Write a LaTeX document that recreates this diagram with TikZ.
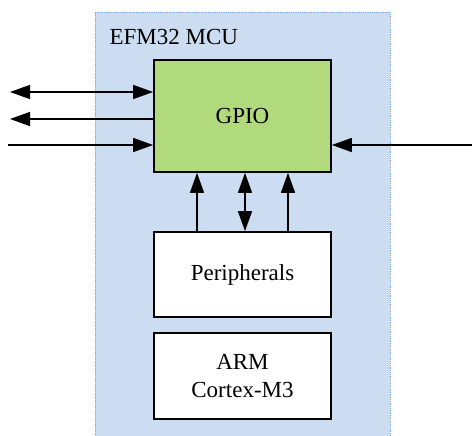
\documentclass[tikz,border=0pt]{standalone}
\usepackage{fontspec}
\setmainfont{Liberation Serif}
\usetikzlibrary{arrows.meta, positioning}
\definecolor{mcublue}{RGB}{204, 221, 241}
\definecolor{mcuedge}{RGB}{126, 166, 224}
\definecolor{gpiogreen}{RGB}{176, 218, 124}

\begin{document}
\begin{tikzpicture}[x=1pt, y=-1pt,
      chip/.style={rectangle, fill=mcublue, draw=mcuedge, densely dotted, line width=0.8pt, minimum width=295pt, minimum height=424pt},
      block/.style={rectangle, draw=black, line width=1.7pt, fill=white, minimum width=177pt, align=center, font=\fontsize{23}{28}\selectfont},
      sig/.style={-{Triangle[length=20pt, width=14pt]}, line width=1.4pt},
      bisig/.style={{Triangle[length=20pt, width=14pt]}-{Triangle[length=20pt, width=14pt]}, line width=1.4pt}
    ]
      \useasboundingbox (0,0) rectangle (472,436);

      \node[chip] (mcu) at (242.5, 224) {};
      \node[anchor=base west, font=\fontsize{23}{28}\selectfont] (mcuname) at (106, 45) {EFM32 MCU};

      \node[block, fill=gpiogreen, minimum height=112pt] (gpio) at (242.5, 116) {GPIO};
      \node[block, minimum height=85pt] (periph) at (242.5, 274.5) {Peripherals};
      \node[block, minimum height=86pt] (arm) at (242.5, 376) {ARM\\Cortex-M3};

      % pins on the left and right
      \coordinate (pa) at (10, 92);
      \coordinate (pb) at (10, 119);
      \coordinate (pc) at (8, 145);
      \coordinate (pd) at (472, 145);

      \draw[bisig] (pa) -- (pa -| gpio.west);
      \draw[sig] (pb -| gpio.west) -- (pb);
      \draw[sig] (pc) -- (pc -| gpio.west);
      \draw[sig] (pd) -- (pd -| gpio.east);

      % peripherals to GPIO
      \draw[sig] ([xshift=-45.5pt]periph.north) -- ([xshift=-45.5pt]gpio.south);
      \draw[bisig] ([xshift=2.5pt]periph.north) -- ([xshift=2.5pt]gpio.south);
      \draw[sig] ([xshift=45.5pt]periph.north) -- ([xshift=45.5pt]gpio.south);
    \end{tikzpicture}
\end{document}
